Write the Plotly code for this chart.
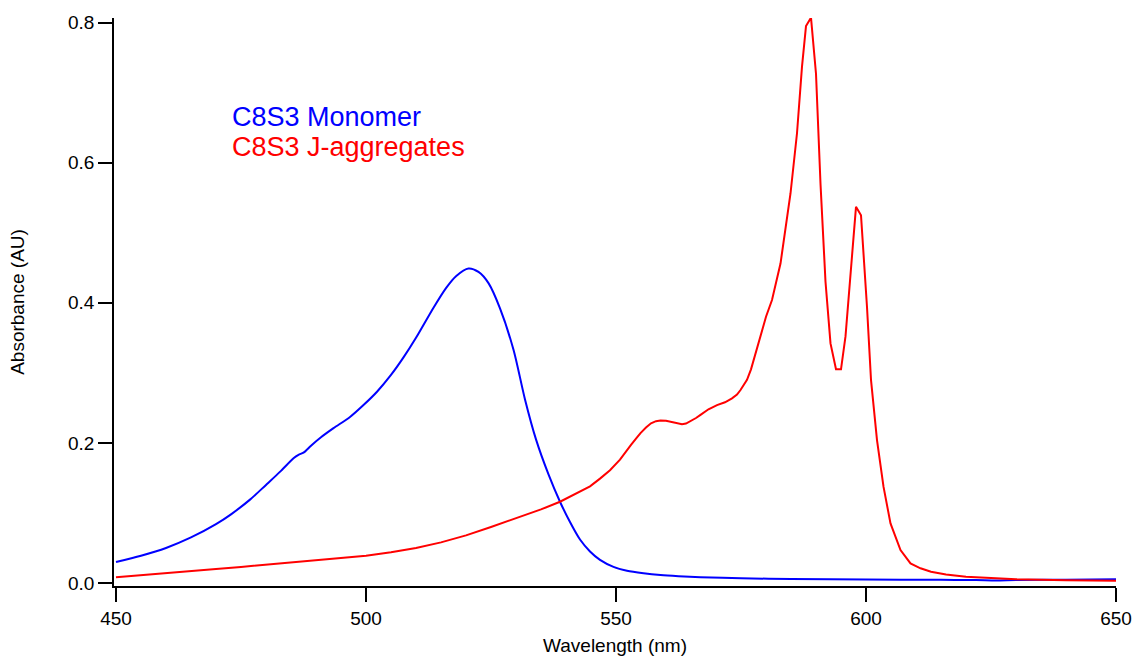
import plotly.graph_objects as go

# C8S3 monomer absorbance spectrum
mono_nm = [450, 455, 460, 465, 470, 473, 476.8, 480, 483, 485.5, 486.5, 487.5, 489, 491,
           493.5, 496.8, 499.5, 502.2, 505, 507.5, 510, 513.5, 516, 518, 520.5, 522.5,
           524.5, 526.8, 529.5, 531.8, 534, 536.5, 538.8, 540.8, 542.8, 544.8, 546.8,
           549.5, 552.2, 555.5, 558.9, 562.5, 566.9, 575, 585, 600, 615, 622, 626, 630,
           640, 650]
mono_abs = [0.030, 0.039, 0.050, 0.065, 0.084, 0.098, 0.119, 0.140, 0.160, 0.178, 0.183,
            0.186, 0.196, 0.208, 0.221, 0.237, 0.254, 0.273, 0.297, 0.322, 0.350, 0.393,
            0.421, 0.438, 0.449, 0.444, 0.428, 0.392, 0.333, 0.262, 0.205, 0.155, 0.116,
            0.087, 0.062, 0.045, 0.033, 0.023, 0.0176, 0.0140, 0.0114, 0.0097, 0.0082,
            0.0067, 0.0057, 0.0050, 0.0045, 0.0042, 0.0035, 0.0042, 0.0048, 0.0055]

# C8S3 J-aggregate absorbance spectrum
jagg_nm = [450, 455, 460, 465, 470, 475, 480, 485, 490, 495, 500, 505, 510, 515, 520,
           525, 530, 535, 538.8, 541, 544.8, 546.8, 548.8, 550.8, 552, 553, 554, 554.9,
           556, 557, 558, 558.9, 560, 561, 562, 563.2, 564, 565, 566, 566.9, 568.5, 570.2,
           571.8, 573.2, 574.2, 574.9, 576.2, 577, 578, 579, 580, 581.2, 582.9, 584.9,
           586.2, 587.2, 588, 589, 590, 590.9, 591.9, 592.9, 594, 595, 595.9, 598, 599,
           600.2, 601, 602.2, 603.5, 604.9, 606.9, 608.9, 610.9, 613, 616, 620, 625, 630,
           640, 650]
jagg_abs = [0.0083, 0.011, 0.014, 0.017, 0.020, 0.023, 0.026, 0.029, 0.032, 0.035, 0.039,
            0.044, 0.050, 0.058, 0.068, 0.080, 0.092, 0.105, 0.116, 0.124, 0.138, 0.149,
            0.161, 0.176, 0.188, 0.197, 0.206, 0.214, 0.222, 0.228, 0.231, 0.232, 0.2315,
            0.230, 0.228, 0.2265, 0.2275, 0.231, 0.2355, 0.240, 0.248, 0.254, 0.258,
            0.2636, 0.269, 0.2755, 0.290, 0.305, 0.330, 0.355, 0.380, 0.404, 0.456, 0.556,
            0.642, 0.737, 0.795, 0.807, 0.727, 0.570, 0.430, 0.342, 0.305, 0.305, 0.352,
            0.537, 0.525, 0.394, 0.290, 0.204, 0.1375, 0.085, 0.047, 0.028, 0.021, 0.016,
            0.012, 0.009, 0.007, 0.0055, 0.004, 0.0033]

x_ticks = [450, 500, 550, 600, 650]
y_ticks = [0.0, 0.2, 0.4, 0.6, 0.8]
y_tick_text = ["0.0", "0.2", "0.4", "0.6", "0.8"]

FONT = "Arial, Liberation Sans, sans-serif"

fig = go.Figure()
fig.add_trace(go.Scatter(x=mono_nm, y=mono_abs, mode="lines",
                         line=dict(color="#0000FF", width=2, shape="spline", smoothing=0.8),
                         name="C8S3 Monomer"))
fig.add_trace(go.Scatter(x=jagg_nm, y=jagg_abs, mode="lines",
                         line=dict(color="#FF0000", width=2), name="C8S3 J-aggregates"))

# in-plot labels instead of a legend box
fig.add_annotation(x=472.8, y=0.665, xref="x", yref="y", text="C8S3 Monomer",
                   showarrow=False, xanchor="left", yanchor="middle",
                   font=dict(family=FONT, size=27, color="#0000FF"))
fig.add_annotation(x=472.8, y=0.622, xref="x", yref="y", text="C8S3 J-aggregates",
                   showarrow=False, xanchor="left", yanchor="middle",
                   font=dict(family=FONT, size=27, color="#FF0000"))

axis_common = dict(showgrid=False, zeroline=False, showline=True, linecolor="black",
                   linewidth=1.6, ticks="outside", ticklen=14, tickwidth=1.6,
                   tickcolor="black", tickfont=dict(family=FONT, size=19, color="black"),
                   mirror=False)

fig.update_xaxes(range=[449.6, 650], tickvals=x_ticks,
                 title=dict(text="Wavelength (nm)", font=dict(family=FONT, size=19, color="black"),
                            standoff=11),
                 **axis_common)
fig.update_yaxes(range=[-0.0043, 0.8065], tickvals=y_ticks, ticktext=y_tick_text,
                 title=dict(text="Absorbance (AU)", font=dict(family=FONT, size=19, color="black"),
                            standoff=38),
                 **axis_common)

fig.update_layout(width=1133, height=656, showlegend=False,
                  plot_bgcolor="white", paper_bgcolor="white",
                  margin=dict(l=114, r=17, t=18, b=70, autoexpand=False))

fig.write_html("out.html")
